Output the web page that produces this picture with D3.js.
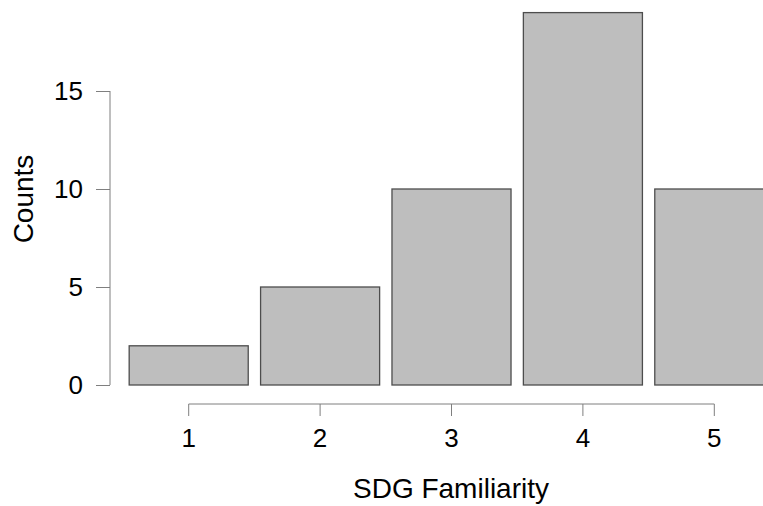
<!DOCTYPE html>
<html>
<head>
<meta charset="utf-8">
<script src="https://cdn.jsdelivr.net/npm/d3@7"></script>
<style>
  body { margin: 0; background: #fff; }
  svg { display: block; font-family: "Liberation Sans", Arial, sans-serif; }
</style>
</head>
<body>
<svg id="chart" width="763" height="506"></svg>
<script>
// data
const categories = ["1", "2", "3", "4", "5"];
const counts = [2, 5, 10, 19, 10];
const yTicks = [0, 5, 10, 15];

const svg = d3.select("#chart");
const axisColor = "#7f7f7f";

const x = d3.scaleBand()
    .domain(categories)
    .range([123, 780])
    .paddingInner(0.094)
    .paddingOuter(0.047);

const y = d3.scaleLinear()
    .domain([0, 19])
    .range([385, 12.6]);

// bars
svg.selectAll("rect.bar")
    .data(categories)
    .enter().append("rect")
    .attr("class", "bar")
    .attr("x", d => x(d))
    .attr("y", (d, i) => y(counts[i]))
    .attr("width", x.bandwidth())
    .attr("height", (d, i) => y(0) - y(counts[i]))
    .attr("fill", "#bebebe")
    .attr("stroke", "#4d4d4d")
    .attr("stroke-width", 1.3);

// y axis
const yAxis = svg.append("g")
    .attr("transform", "translate(110,0)")
    .call(d3.axisLeft(y).tickValues(yTicks).tickSize(14).tickPadding(13));
yAxis.select(".domain").remove();
yAxis.append("line")
    .attr("x1", 0).attr("x2", 0)
    .attr("y1", y(0)).attr("y2", y(15))
    .attr("stroke", axisColor);
yAxis.selectAll(".tick line").attr("stroke", axisColor);
yAxis.selectAll(".tick text")
    .attr("fill", "#000")
    .style("font-size", "26px");

// x axis
const xAxis = svg.append("g")
    .attr("transform", "translate(0,404)")
    .call(d3.axisBottom(x).tickSize(12).tickPadding(13));
xAxis.select(".domain").remove();
xAxis.append("line")
    .attr("x1", x(categories[0]) + x.bandwidth() / 2)
    .attr("x2", x(categories[categories.length - 1]) + x.bandwidth() / 2)
    .attr("y1", 0).attr("y2", 0)
    .attr("stroke", axisColor);
xAxis.selectAll(".tick line").attr("stroke", axisColor);
xAxis.selectAll(".tick text")
    .attr("fill", "#000")
    .style("font-size", "26px");

// axis titles
svg.append("text")
    .attr("x", 451)
    .attr("y", 498)
    .attr("text-anchor", "middle")
    .style("font-size", "28px")
    .text("SDG Familiarity");

svg.append("text")
    .attr("transform", "translate(33,199) rotate(-90)")
    .attr("text-anchor", "middle")
    .style("font-size", "28px")
    .text("Counts");
</script>
</body>
</html>
